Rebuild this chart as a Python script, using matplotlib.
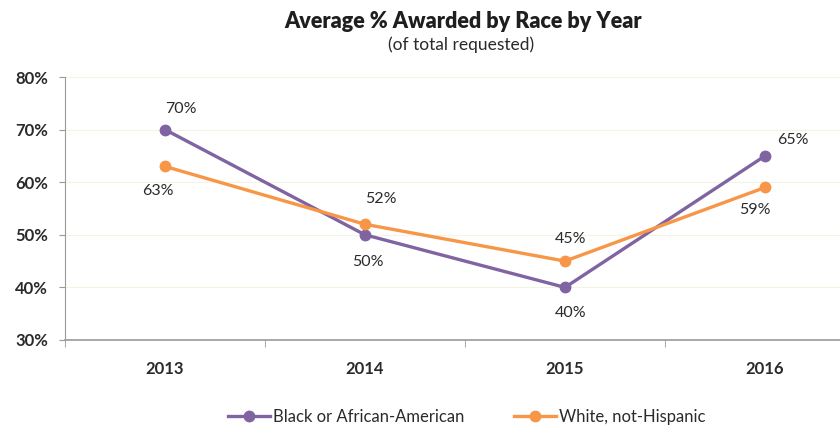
import matplotlib
matplotlib.use("Agg")
import matplotlib.pyplot as plt
from matplotlib.ticker import FuncFormatter

plt.rcParams['font.family'] = ['Lato', 'DejaVu Sans']

years = ['2013', '2014', '2015', '2016']
black = [70, 50, 40, 65]
white = [63, 52, 45, 59]
series_names = ['Black or African-American', 'White, not-Hispanic']
yticks = [30, 40, 50, 60, 70, 80]

purple = '#8064A2'
orange = '#F79646'
txt = '#2a2a2a'

fig = plt.figure(figsize=(8.4, 4.33), dpi=100)
W, H = 840, 433
ax = fig.add_axes([65 / W, (H - 340) / H, 800 / W, 263 / H])
x = list(range(len(years)))
l1, = ax.plot(x, black, color=purple, lw=2.4, marker='o', ms=7.5, label=series_names[0])
l2, = ax.plot(x, white, color=orange, lw=2.4, marker='o', ms=7.5, label=series_names[1])
ax.set_xlim(-0.5, 3.5)
ax.set_ylim(30, 80)
ax.set_yticks(yticks)
ax.yaxis.set_major_formatter(FuncFormatter(lambda v, p: f'{v:.0f}%'))
ax.set_xticks(x)
ax.set_xticklabels(years)
ax.set_xticks([-0.5, 0.5, 1.5, 2.5], minor=True)
for lab in ax.get_xticklabels() + ax.get_yticklabels():
    lab.set_fontweight('bold')
    lab.set_color(txt)
    lab.set_fontsize(12)
ax.tick_params(axis='x', which='major', length=0, pad=15)
ax.tick_params(axis='x', which='minor', length=5, color='#999999')
ax.tick_params(axis='y', length=4, color='#999999', pad=8)
ax.grid(axis='y', color='#f6f2e4', lw=0.8)
ax.set_axisbelow(True)
for s in ['top', 'right']:
    ax.spines[s].set_visible(False)
ax.spines['left'].set_color('#999999')
ax.spines['bottom'].set_color('#999999')
ax.spines['bottom'].set_linewidth(1.2)

# label offsets in pixels (x right, y up)
boff = [(16, 21), (3, -27), (6, -26), (28, 16)]
woff = [(-7, -25), (16, 25), (6, 22), (-10, -23)]
for i in range(len(years)):
    ax.annotate(f'{black[i]}%', (x[i], black[i]), xytext=boff[i], textcoords='offset pixels',
                ha='center', va='center', fontsize=11.5, color=txt)
    ax.annotate(f'{white[i]}%', (x[i], white[i]), xytext=woff[i], textcoords='offset pixels',
                ha='center', va='center', fontsize=11.5, color=txt)

fig.text(463 / W, 1 - 22 / H, 'Average % Awarded by Race by Year', ha='center', va='center',
         fontsize=15.5, fontweight='heavy', color='#1e1e1e')
fig.text(461 / W, 1 - 45 / H, '(of total requested)', ha='center', va='center',
         fontsize=12.5, color=txt)

leg = fig.legend(handles=[l1, l2], loc='center', bbox_to_anchor=(467 / W, 1 - 417 / H), ncol=2,
                 frameon=False, fontsize=12, columnspacing=3, handlelength=2.5, handletextpad=0.2)
for t in leg.get_texts():
    t.set_color(txt)

fig.savefig('out.png', dpi=100)
